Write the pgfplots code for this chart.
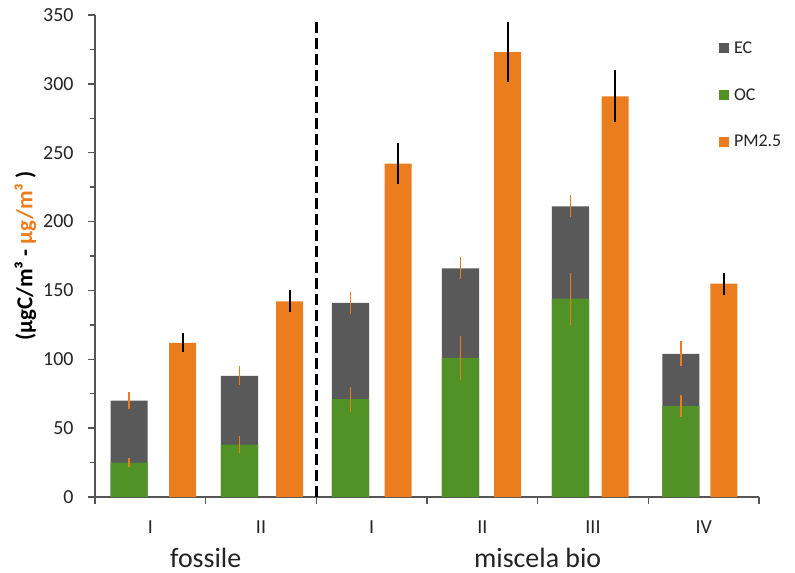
\documentclass[border=0pt]{standalone}
\usepackage{pgfplots}
\pgfplotsset{compat=1.18}
\usepackage{fontspec}
\setmainfont{Carlito}

\definecolor{ecgray}{RGB}{89,89,89}
\definecolor{ocgreen}{RGB}{80,146,38}
\definecolor{pmorange}{RGB}{236,125,30}
\definecolor{axisgray}{RGB}{85,85,85}
\definecolor{txt}{RGB}{35,35,35}

\begin{document}
\begin{tikzpicture}[
  runlab/.style={anchor=base, font=\fontsize{20}{24}\selectfont, text=txt, inner sep=0pt},
  grplab/.style={anchor=base, font=\fontsize{28}{32}\selectfont, text=txt, inner sep=0pt}]
\begin{axis}[
  name=ax, clip=false,
  scale only axis, width=664bp, height=482bp,
  xmin=0, xmax=6, ymin=0, ymax=350,
  axis lines*=left,
  axis line style={line width=1.3bp, color=axisgray},
  xtick={0,...,6}, xticklabels={},
  ytick={0,50,...,350}, minor ytick={25,75,...,325},
  tick align=outside, major tick length=7bp, minor tick length=5bp,
  tick style={line width=1.3bp, color=axisgray},
  /pgf/number format/assume math mode=true,
  yticklabel style={font=\fontsize{20}{24}\selectfont, text=txt, xshift=-11bp},
  ylabel={\bfseries (µgC/m³ - \textcolor{pmorange}{µg/m³} )},
  ylabel style={font=\fontsize{23}{26}\selectfont, text=black, at={(axis description cs:-0.105,0.5)}, anchor=center},
  legend image code/.code={%
    \fill[#1, draw=none] (0bp,-5bp) rectangle (10bp,5bp);
    \path[draw=none, fill=none] (0bp,-5bp) rectangle (13bp,5bp);},
  legend style={at={(0.935,0.953)}, anchor=north west, draw=none, fill=none,
    font=\fontsize{18}{22}\selectfont, text=txt, row sep=29.5bp},
  legend cell align=left,
]

% EC + OC total (drawn first, gray), with error on the total
\addplot[forget plot, ybar, bar shift=0pt, bar width=0.335, fill=ecgray, draw=none,
  error bars/.cd, y dir=both, y explicit, error mark=none,
  error bar style={line width=1.5bp, color=pmorange}]
  coordinates {(0.309,70) +- (0,6) (1.306,88) +- (0,7) (2.309,141) +- (0,8)
               (3.303,166) +- (0,8) (4.297,211) +- (0,8) (5.294,104) +- (0,9)};

% OC
\addplot[forget plot, ybar, bar shift=0pt, bar width=0.335, fill=ocgreen, draw=none,
  error bars/.cd, y dir=both, y explicit, error mark=none,
  error bar style={line width=1.5bp, color=pmorange}]
  coordinates {(0.309,25) +- (0,3) (1.306,38) +- (0,6) (2.309,71) +- (0,9)
               (3.303,101) +- (0,16) (4.297,144) +- (0,19) (5.294,66) +- (0,8)};

% PM2.5
\addplot[forget plot, ybar, bar shift=0pt, bar width=0.244, fill=pmorange, draw=none,
  error bars/.cd, y dir=both, y explicit, error mark=none,
  error bar style={line width=2bp, color=black}]
  coordinates {(0.792,112) +- (0,7) (1.759,142) +- (0,8) (2.740,242) +- (0,15)
               (3.729,323) +- (0,22) (4.700,291) +- (0,19) (5.683,155) +- (0,8)};

\addlegendimage{fill=ecgray}\addlegendentry{EC}
\addlegendimage{fill=ocgreen}\addlegendentry{OC}
\addlegendimage{fill=pmorange}\addlegendentry{PM2.5}

% separator between fuel types
\draw[line width=3bp, dash pattern=on 11bp off 5bp] (axis cs:2,345) -- (axis cs:2,0);

% run labels
\node[runlab] at ([yshift=-36bp]axis cs:0.5,0) {I};
\node[runlab] at ([yshift=-36bp]axis cs:1.5,0) {II};
\node[runlab] at ([yshift=-36bp]axis cs:2.5,0) {I};
\node[runlab] at ([yshift=-36bp]axis cs:3.5,0) {II};
\node[runlab] at ([yshift=-36bp]axis cs:4.5,0) {III};
\node[runlab] at ([yshift=-36bp]axis cs:5.5,0) {IV};
% fuel groups
\node[grplab] at ([yshift=-70bp]axis cs:1,0) {fossile};
\node[grplab] at ([yshift=-70bp]axis cs:4,0) {miscela bio};
\end{axis}
\pgfresetboundingbox
\path[use as bounding box] ([xshift=-95bp,yshift=-76bp]ax.south west)
  rectangle ([xshift=36bp,yshift=15bp]ax.north east);
\end{tikzpicture}
\end{document}
